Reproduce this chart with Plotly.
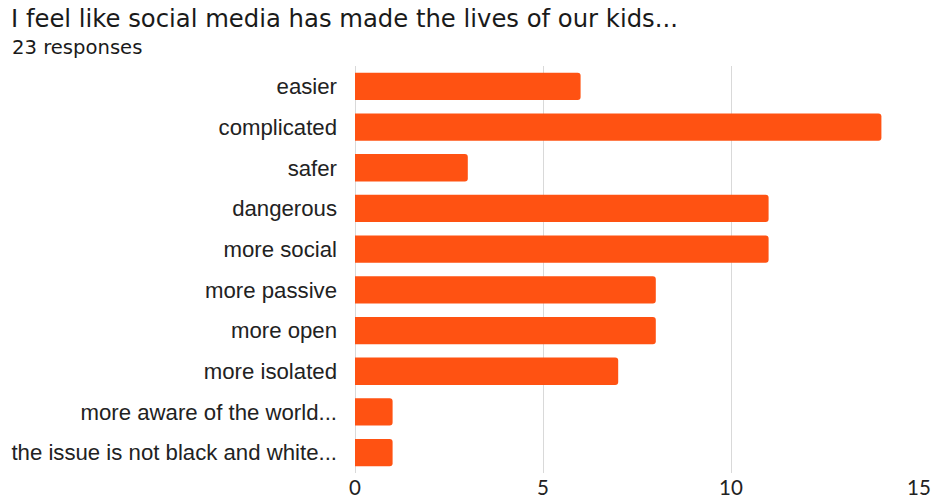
import plotly.graph_objects as go

categories = ["easier", "complicated", "safer", "dangerous", "more social",
              "more passive", "more open", "more isolated",
              "more aware of the world...", "the issue is not black and white..."]
counts = [6, 14, 3, 11, 11, 8, 8, 7, 1, 1]
x_ticks = [0, 5, 10, 15]

W, H = 933, 501
ML, MR, MT, MB = 355, 14, 66, 28

fig = go.Figure(go.Bar(
    x=counts, y=categories, orientation="h",
    marker=dict(color="#FF5212", line=dict(width=0)),
    width=0.67,
))

fig.update_layout(
    width=W, height=H,
    margin=dict(l=ML, r=MR, t=MT, b=MB, autoexpand=False),
    plot_bgcolor="white", paper_bgcolor="white",
    showlegend=False,
    barcornerradius=3,
    font=dict(family="Liberation Sans, Arial, sans-serif", color="#222222"),
    xaxis=dict(range=[0, 15], tickvals=x_ticks, showgrid=True,
               gridcolor="#D9D9D9", gridwidth=1, zeroline=True,
               zerolinecolor="#D9D9D9", zerolinewidth=1,
               tickfont=dict(size=20.5, family="Lato, sans-serif", color="#222222"),
               showline=False, fixedrange=True, automargin=False),
    yaxis=dict(categoryorder="array", categoryarray=categories,
               autorange="reversed", showgrid=False,
               tickfont=dict(size=22.2, family="Liberation Sans, Arial, sans-serif", color="#222222"),
               ticklabelstandoff=17, fixedrange=True, automargin=False),
    title=dict(
        text="I feel like social media has made the lives of our kids...",
        x=11 / W, xanchor="left", y=1 - 18 / H, yanchor="middle",
        xref="container", yref="container",
        font=dict(size=24.3, family="DejaVu Sans, sans-serif", color="#1A1A1A")),
)
fig.add_annotation(text="23 responses", xref="x domain", yref="y domain",
                   x=-(ML - 10) / (W - ML - MR), y=1 + (MT - 47) / (H - MT - MB),
                   xanchor="left", yanchor="middle", showarrow=False,
                   font=dict(size=19.6, family="DejaVu Sans, sans-serif", color="#1A1A1A"))

fig.write_html("out.html")
